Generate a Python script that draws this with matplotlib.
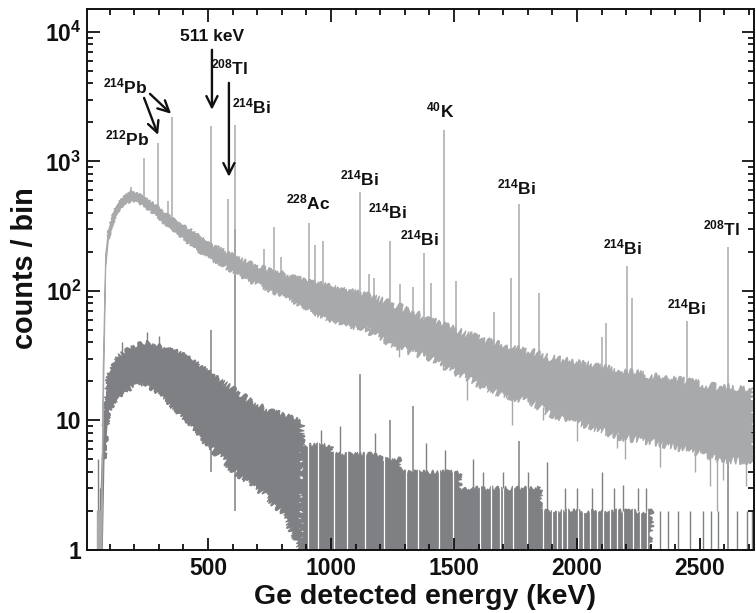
import matplotlib
matplotlib.use("Agg")
import matplotlib.pyplot as plt
import numpy as np

plt.rcParams['font.family'] = ['Liberation Sans', 'DejaVu Sans']
plt.rcParams['font.weight'] = 'bold'
plt.rcParams['mathtext.fontset'] = 'custom'
plt.rcParams['mathtext.rm'] = 'Liberation Sans:bold'
plt.rcParams['mathtext.it'] = 'Liberation Sans:bold:italic'
plt.rcParams['mathtext.bf'] = 'Liberation Sans:bold'

LIGHT = '#a8a9ab'
DARK = '#7f8083'

# --- unshielded spectrum: continuum band (keV, counts/bin) ---
light_e = [50, 68, 74, 84, 95, 122, 150, 191, 232, 280, 337, 400, 450, 516,
           560, 622, 700, 813, 923, 1008, 1146, 1280, 1415, 1553, 1687, 1809,
           1902, 2040, 2175, 2309, 2447, 2581, 2720]
light_hi = [2, 2, 25, 190, 290, 430, 520, 590, 540, 470, 385, 320, 270, 225,
            205, 178, 155, 135, 116, 104, 92, 75, 58, 46, 38, 34,
            30, 27, 24, 22, 20, 18, 18]
light_lo = [1, 1, 12, 150, 250, 370, 450, 500, 460, 395, 310, 255, 215, 175,
            160, 133, 112, 90, 70, 60, 50, 36, 30, 21, 16, 14,
            11, 9.2, 7.5, 6.8, 6.0, 5.0, 4.8]

# lines in the unshielded spectrum
light_peak_e = [186, 239, 295, 338, 352, 511, 583, 609, 727, 768, 795, 911,
                934, 969, 1120, 1155, 1173, 1238, 1281, 1332, 1377, 1408, 1460,
                1509, 1661, 1730, 1764, 1847, 2104, 2119, 2204, 2223, 2448, 2614]
light_peak_h = [635, 1070, 1390, 490, 2200, 1880, 515, 1920, 212, 313, 183, 334,
                227, 243, 578, 135, 126, 243, 113, 107, 197, 116, 1750,
                120, 69, 126, 470, 96, 44, 57, 156, 88, 59, 218]

# downward fluctuations below the band
light_dip_e = [1277, 1455, 1553, 1711, 1736, 1862, 2000, 2162, 2195, 2337,
               2480, 2541, 2569, 2594, 2687]
light_dip_v = [31, 24.5, 14.4, 15, 9.2, 10, 7, 6.1, 5.0, 4.4,
               4.0, 3.1, 2.0, 3.5, 3.1]

# --- shielded spectrum: low-energy band ---
dark_e = [60, 70, 77, 95, 134, 190, 244, 337, 435, 516, 610, 700, 800, 880]
dark_hi = [1.5, 5, 10, 22, 31, 37, 40, 36, 29, 22, 17, 13, 11, 9.6]
dark_lo = [1, 1, 5, 12, 15, 18, 19.5, 14, 9, 6, 4, 3, 2, 1]

# integer-count plateaus at higher energy
dark_step_e = [880, 1000, 1200, 1280, 1520, 1850, 2300]
dark_step_top = [6.5, 5.5, 5, 4, 3, 2, 2]

# isolated single counts above 2300 keV
dark_sparse_e = [2337, 2372, 2411, 2459, 2512, 2545, 2573, 2650, 2691, 2712]

# empty bins inside the plateaus
dark_gap_e = [905, 948, 1012, 1064, 1140, 1215, 1306, 1352, 1440, 1498,
              1606, 1650, 1687, 1700, 1740, 1797, 1862, 1898, 1919, 1939,
              1959, 2004, 2024, 2053, 2081, 2106, 2134, 2162, 2187, 2228,
              2256, 2284]

# upward fluctuations
dark_spike_e = [53, 62, 150, 252, 300, 960, 1037, 1180, 1388, 1463, 1578,
                1620, 1700, 1800, 1878, 1950, 2000, 2060, 2100, 2150, 2187,
                2250, 2280]
dark_spike_v = [5, 3, 40, 48, 45, 8.5, 9, 8, 6.7, 5.9, 5,
                4, 4, 4, 4.8, 3, 3, 3, 4, 3, 3.2,
                3, 3]
dark_spike_lo = [1, 1, 30, 35, 30, 5, 5, 5, 4, 4, 3,
                 3, 3, 3, 2, 2, 2, 2, 2, 2, 2,
                 2, 2]

# lines in the shielded spectrum
dark_peak_e = [511, 609, 1120, 1238, 1332, 1764, 2614]
dark_peak_h = [50, 300, 23, 10, 13, 7, 10]
dark_peak_lo = [4, 2, 1, 1, 1, 1, 1]

# line labels: (text, energy, counts)
labels = [
    ('511 keV', 516, 9150),
    ('$^{208}$Tl', 589, 5270),
    ('$^{214}$Bi', 675, 2635),
    ('$^{214}$Pb', 163, 3760),
    ('$^{212}$Pb', 171, 1492),
    ('$^{228}$Ac', 906, 478),
    ('$^{214}$Bi', 1118, 732),
    ('$^{214}$Bi', 1228, 407),
    ('$^{214}$Bi', 1362, 252),
    ('$^{40}$K', 1443, 2455),
    ('$^{214}$Bi', 1756, 624),
    ('$^{214}$Bi', 2187, 215),
    ('$^{208}$Tl', 2590, 301),
    ('$^{214}$Bi', 2447, 74),
]
# arrows: (start E, start counts, end E, end counts)
arrows = [
    (516, 7260, 516, 2500),
    (585, 4040, 585, 760),
    (240, 3090, 297, 1600),
    (264, 3320, 350, 2330),
]


def band_patch(ax, e, lo, hi, color, zorder, sketch=None):
    # closed outline: upper edge left to right, lower edge back
    e, lo, hi = np.asarray(e), np.asarray(lo), np.asarray(hi)
    xs = np.concatenate([e, e[::-1]])
    ys = np.concatenate([hi, lo[::-1]])
    patch, = ax.fill(xs, ys, color=color, lw=0.8, zorder=zorder)
    if sketch:
        patch.set_sketch_params(*sketch)
    return patch


def band_pieces(ax, e, lo, hi, cuts, sketches, color, zorder):
    # bin scatter grows as counts drop, so the jagged edge gets wider;
    # pieces overlap by one point so the joins stay hidden
    n = len(e)
    for (i0, i1), sk in zip(zip(cuts[:-1], cuts[1:]), sketches):
        j0 = max(i0 - 1, 0) if sk else i0
        j1 = min(i1 + 1, n - 1)
        band_patch(ax, e[j0:j1 + 1], lo[j0:j1 + 1], hi[j0:j1 + 1], color, zorder, sk)


fig = plt.figure(figsize=(7.56, 6.13), dpi=100)
ax = fig.add_axes([87 / 756, 63 / 613, (754 - 87) / 756, (550 - 9) / 613])
ax.set_yscale('log')

# shielded spectrum
band_pieces(ax, dark_e, dark_lo, dark_hi, [0, 3, 8, 13],
            [None, (2.5, 1.5, 25), (3.5, 1.5, 25)], DARK, 1)
step_x = np.repeat(dark_step_e, 2)[1:-1]
step_y = np.repeat(dark_step_top[:-1], 2)
band_patch(ax, step_x, np.ones_like(step_y), step_y, DARK, 1, (2.5, 1.5, 25))
ax.vlines(dark_sparse_e, 1, 2, color=DARK, lw=1.0, zorder=1)
ax.vlines(dark_gap_e, 1, 7, color='white', lw=0.9, zorder=1.5)
ax.vlines(dark_spike_e, dark_spike_lo, dark_spike_v, color=DARK, lw=1.0, zorder=1.6)
ax.vlines(dark_peak_e, dark_peak_lo, dark_peak_h, color=DARK, lw=1.1, zorder=1.6)

# unshielded spectrum
band_pieces(ax, light_e, light_lo, light_hi, [0, 5, 12, 19, 32],
            [None, (1.2, 1.5, 25), (2.5, 1.5, 25), (4, 1.5, 25)], LIGHT, 2)
base = 10 ** np.interp(light_peak_e, light_e, np.log10(light_lo))
ax.vlines(light_peak_e, base, light_peak_h, color=LIGHT, lw=1.1, zorder=2)
dip_top = 10 ** np.interp(light_dip_e, light_e, np.log10(light_lo))
ax.vlines(light_dip_e, light_dip_v, dip_top * 1.05, color=LIGHT, lw=1.0, zorder=2)

for txt, e, c in labels:
    ax.text(e, c, txt, ha='center', va='center', fontsize=12.5,
            fontweight='bold', color='#111111', zorder=5)
for e0, c0, e1, c1 in arrows:
    ax.annotate('', xy=(e1, c1), xytext=(e0, c0),
                arrowprops=dict(arrowstyle='->', lw=1.7, color='#111111',
                                mutation_scale=20, shrinkA=0, shrinkB=0),
                zorder=5)

ax.set_xlim(8, 2720)
ax.set_ylim(1, 1.5e4)

ax.set_xticks([500, 1000, 1500, 2000, 2500])
ax.set_xticklabels(['500', '1000', '1500', '2000', '2500'])
ax.set_xticks(np.arange(100, 2701, 100), minor=True)
ax.set_yticks([1, 10, 100, 1000, 10000])
ax.set_yticklabels(['1', '10', '$10^2$', '$10^3$', '$10^4$'])
ax.yaxis.set_minor_locator(matplotlib.ticker.LogLocator(base=10, subs=np.arange(2, 10)))
ax.yaxis.set_minor_formatter(matplotlib.ticker.NullFormatter())

ax.tick_params(which='both', direction='in', top=True, right=True,
               width=1.3, labelsize=16.5, colors='#111111')
ax.tick_params(which='major', length=9)
ax.tick_params(which='minor', length=4.5)
ax.tick_params(axis='x', pad=5)
ax.tick_params(axis='y', pad=4)
for s in ax.spines.values():
    s.set_linewidth(1.4)
    s.set_color('#111111')

fig.text(425 / 756, 1 - 597 / 613, 'Ge detected energy (keV)', ha='center',
         va='center', fontsize=20.5, fontweight='bold', color='#111111')
fig.text(25 / 756, 1 - 268 / 613, 'counts / bin', ha='center', va='center',
         rotation=90, fontsize=20.8, fontweight='bold', color='#111111')

fig.savefig('out.png', dpi=100)
